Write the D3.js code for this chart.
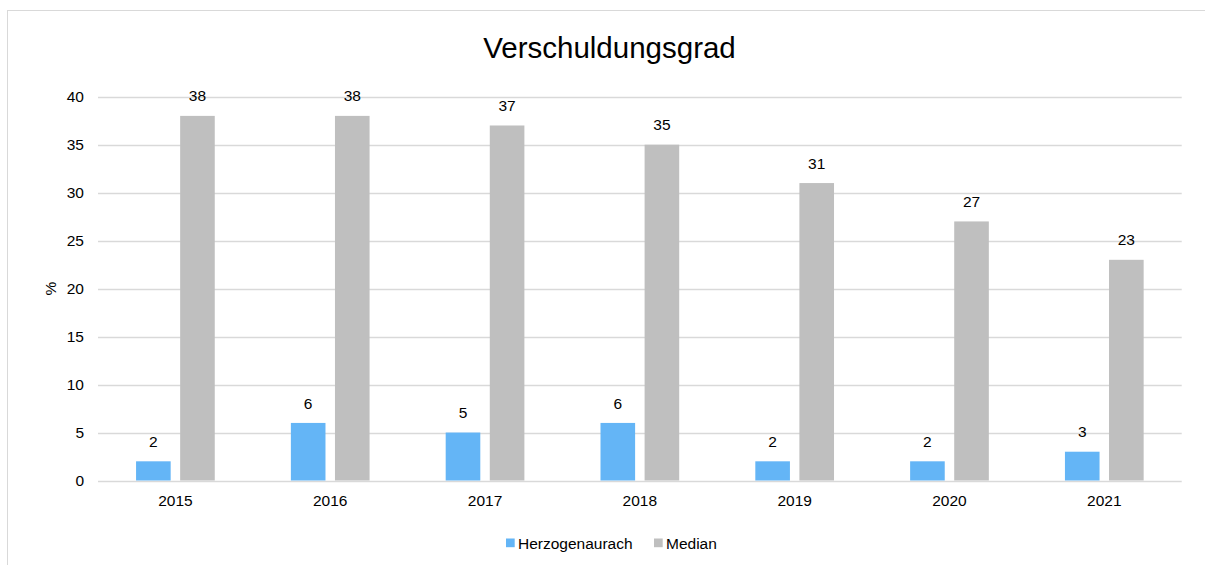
<!DOCTYPE html>
<html>
<head>
<meta charset="utf-8">
<script src="https://cdn.jsdelivr.net/npm/d3@7"></script>
<style>
  html, body { margin: 0; padding: 0; background: #fff; overflow: hidden; }
  svg { display: block; font-family: "Liberation Sans", Arial, sans-serif; }
</style>
</head>
<body>
<svg id="chart" width="1205" height="565"></svg>
<script>
// Debt ratio (%) per year: municipality vs. median of comparison group
const years = ["2015", "2016", "2017", "2018", "2019", "2020", "2021"];
const seriesNames = ["Herzogenaurach", "Median"];
const herzogenaurach = [2, 6, 5, 6, 2, 2, 3];
const median = [38, 38, 37, 35, 31, 27, 23];
const yTicks = [0, 5, 10, 15, 20, 25, 30, 35, 40];
const colors = ["#64B5F6", "#BFBFBF"];

const svg = d3.select("#chart");

// chart frame
svg.append("rect")
  .attr("x", 7.5).attr("y", 10.5)
  .attr("width", 1300).attr("height", 700)
  .attr("fill", "#fff").attr("stroke", "#D9D9D9").attr("stroke-width", 1);

const plot = { left: 98, right: 1181.7, top: 96.7, bottom: 480.5 };

const x0 = d3.scaleBand().domain(years).range([plot.left, plot.right]).padding(0);
const groupW = 78.7;
const x1 = d3.scaleBand().domain(seriesNames).range([0, groupW]).paddingInner(0.215).paddingOuter(0);
const y = d3.scaleLinear().domain([0, 40]).range([plot.bottom, plot.top]);

// title
svg.append("text")
  .attr("x", 609.5).attr("y", 57.5)
  .attr("text-anchor", "middle")
  .attr("font-size", 29.5)
  .attr("fill", "#000")
  .text("Verschuldungsgrad");

// gridlines
svg.append("g").selectAll("line").data(yTicks).join("line")
  .attr("x1", plot.left).attr("x2", plot.right)
  .attr("y1", d => Math.round(y(d)) + 0.5).attr("y2", d => Math.round(y(d)) + 0.5)
  .attr("stroke", "#D9D9D9").attr("stroke-width", 1.3);

// y axis labels
const yAxis = d3.axisLeft(y).tickValues(yTicks).tickSize(0).tickPadding(0);
svg.append("g")
  .attr("transform", `translate(84,0)`)
  .call(yAxis)
  .call(g => g.select(".domain").remove())
  .call(g => g.selectAll("text")
    .attr("font-size", 15.5).attr("fill", "#000")
    .attr("font-family", "Liberation Sans, Arial, sans-serif"));

// x axis labels
const xAxis = d3.axisBottom(x0).tickSize(0).tickPadding(0);
svg.append("g")
  .attr("transform", `translate(0,${plot.bottom})`)
  .call(xAxis)
  .call(g => g.select(".domain").remove())
  .call(g => g.selectAll("text")
    .attr("font-size", 15.5).attr("fill", "#000")
    .attr("dy", null).attr("y", 25.2)
    .attr("font-family", "Liberation Sans, Arial, sans-serif"));

// y axis title
svg.append("text")
  .attr("transform", `translate(55.5,${(plot.top + plot.bottom) / 2}) rotate(-90)`)
  .attr("text-anchor", "middle")
  .attr("font-size", 15.5).attr("fill", "#000")
  .text("%");

// bars
const rows = years.map((yr, i) => ({ year: yr, values: [herzogenaurach[i], median[i]] }));
const groups = svg.append("g").selectAll("g").data(rows).join("g")
  .attr("transform", d => `translate(${x0(d.year) + x0.bandwidth() / 2 - groupW / 2},0)`);

groups.selectAll("rect").data(d => d.values.map((v, k) => ({ name: seriesNames[k], value: v, k }))).join("rect")
  .attr("x", d => x1(d.name))
  .attr("width", x1.bandwidth())
  .attr("y", d => y(d.value))
  .attr("height", d => y(0) - y(d.value))
  .attr("fill", d => colors[d.k]);

// value labels
groups.selectAll("text.val").data(d => d.values.map((v, k) => ({ name: seriesNames[k], value: v, k }))).join("text")
  .attr("class", "val")
  .attr("x", d => x1(d.name) + x1.bandwidth() / 2)
  .attr("y", d => y(d.value) - 14.4)
  .attr("text-anchor", "middle")
  .attr("font-size", 15.5).attr("fill", "#000")
  .text(d => d.value);

// legend
const legend = svg.append("g");
const legendItems = [
  { name: seriesNames[0], color: colors[0], x: 506 },
  { name: seriesNames[1], color: colors[1], x: 654 }
];
legendItems.forEach(it => {
  legend.append("rect")
    .attr("x", it.x).attr("y", 538.5).attr("width", 8.7).attr("height", 8.7)
    .attr("fill", it.color);
  legend.append("text")
    .attr("x", it.x + 12).attr("y", 549)
    .attr("font-size", 15.5).attr("fill", "#000")
    .text(it.name);
});
</script>
</body>
</html>
